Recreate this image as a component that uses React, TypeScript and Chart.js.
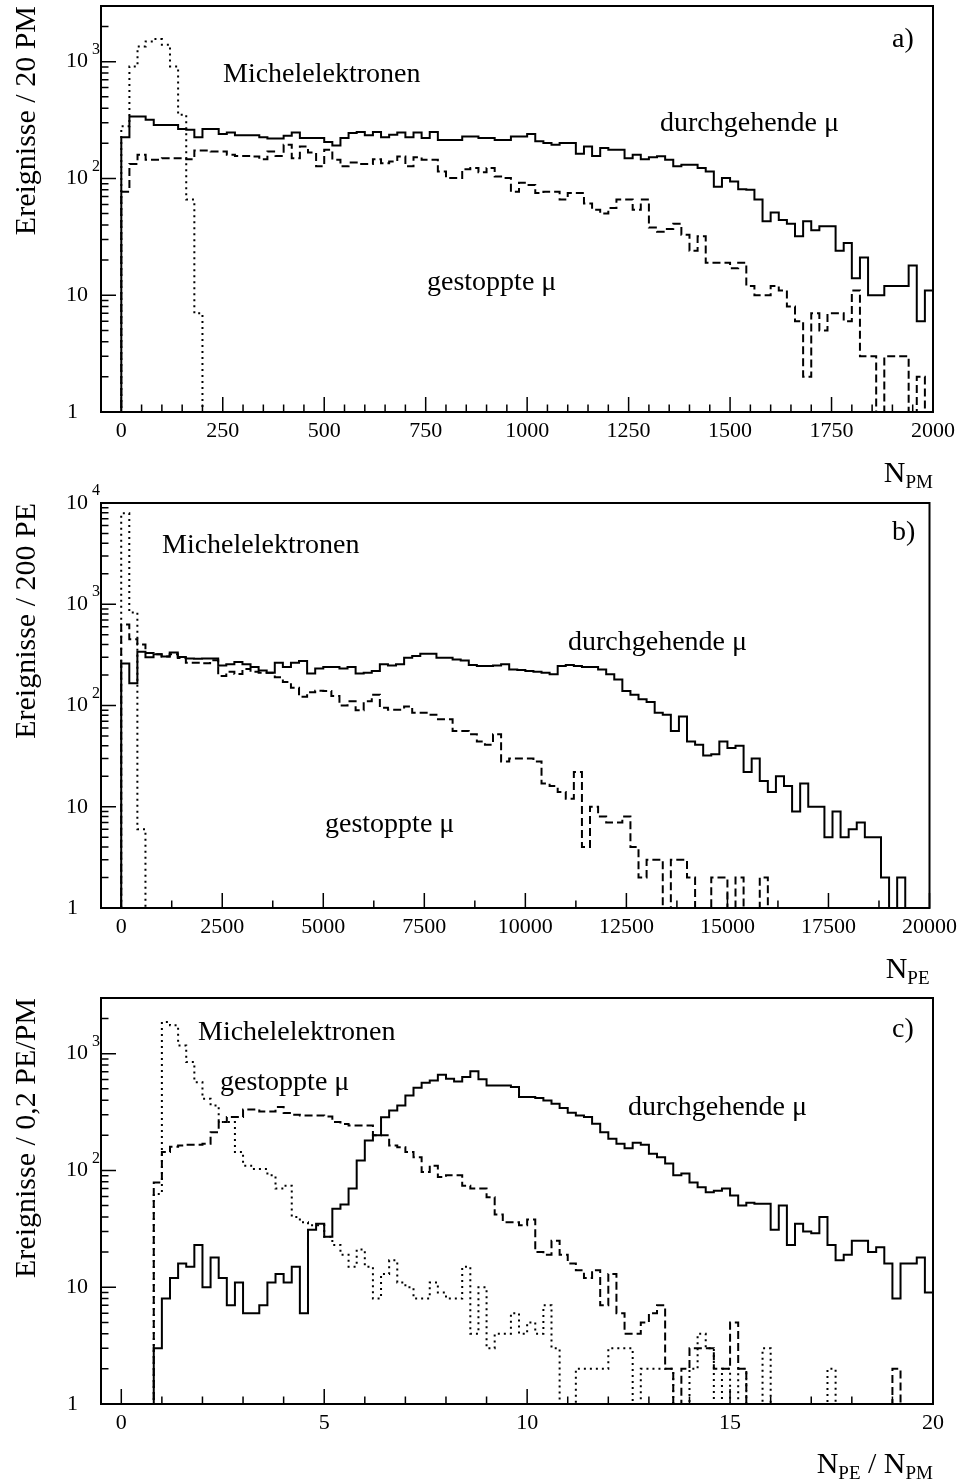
import React, { useEffect, useRef } from "react";
import { Chart, registerables } from "chart.js";

Chart.register(...registerables);

// ---- a) number of hit photomultipliers, 20 PM per bin ----
const pmBinWidth = 20;
const pmTickLabels = [0, 250, 500, 750, 1000, 1250, 1500, 1750, 2000];
const pmThrough = [
  225, 340, 340, 318, 287, 287, 287, 265, 262, 225,
  265, 265, 240, 248, 235, 235, 235, 225, 220, 220,
  232, 248, 222, 222, 222, 205, 192, 222, 245, 250,
  235, 250, 225, 237, 248, 225, 248, 222, 250, 214,
  214, 214, 229, 229, 222, 222, 214, 214, 229, 229,
  240, 208, 201, 194, 201, 201, 163, 188, 156, 182,
  176, 176, 149, 160, 146, 152, 155, 145, 127, 131,
  131, 123, 115, 85, 101, 94, 81, 80, 66, 43,
  51, 44, 41, 32, 43, 36, 39, 39, 24, 28,
  14, 21, 10, 10, 12, 12, 12, 18, 6, 11,
];
const pmStopped = [
  77, 133, 160, 145, 145, 149, 149, 149, 146, 174,
  174, 170, 170, 160, 156, 156, 154, 146, 170, 156,
  194, 149, 188, 167, 127, 176, 145, 127, 137, 133,
  133, 146, 135, 140, 154, 127, 152, 145, 145, 115,
  101, 101, 120, 123, 113, 123, 104, 101, 77, 92,
  88, 75, 77, 77, 66, 75, 75, 61, 54, 50,
  56, 66, 66, 54, 66, 38, 35, 37, 41, 33,
  24, 32, 19, 19, 19, 17, 19, 12, 10, 10,
  12, 11, 8, 6, 2, 7, 5, 7, 7, 6,
  11, 3, 3, 0, 3, 3, 3, 0, 2, 1,
];
const pmMichel = [280, 912, 1353, 1493, 1563, 1400, 912, 351, 66, 7];

// ---- b) number of photoelectrons, 200 PE per bin ----
const peBinWidth = 200;
const peTickLabels = [0, 2500, 5000, 7500, 10000, 12500, 15000, 17500, 20000];
const peThrough = [
  260, 166, 340, 300, 320, 305, 333, 301, 292, 290,
  292, 292, 249, 255, 269, 255, 240, 222, 211, 264,
  240, 264, 275, 207, 232, 240, 240, 232, 240, 207,
  211, 219, 255, 249, 255, 296, 308, 325, 325, 296,
  296, 285, 279, 251, 245, 245, 249, 255, 227, 224,
  219, 215, 211, 203, 245, 251, 245, 240, 240, 227,
  203, 181, 139, 128, 115, 108, 85, 81, 56, 78,
  44, 41, 32, 33, 44, 38, 40, 22, 30, 18,
  14, 20, 16, 9, 17, 10, 10, 5, 9, 5,
  6, 7, 5, 5, 2, 0, 2,
];
const peStopped = [
  630, 450, 400, 330, 320, 305, 320, 295, 265, 265,
  262, 280, 196, 215, 205, 230, 215, 211, 211, 190,
  171, 150, 122, 135, 140, 139, 124, 100, 110, 90,
  110, 128, 95, 91, 91, 98, 85, 85, 81, 73,
  73, 56, 56, 52, 44, 41, 52, 28, 30, 30,
  30, 28, 17, 16, 14, 12, 22, 4, 10, 8,
  7, 7, 8, 4, 2, 3, 3, 0, 3, 3,
  2, 1, 1, 2, 2, 1, 2, 1, 1, 2,
  1,
];
const peMichel = [7900, 830, 6];

// ---- c) photoelectrons per photomultiplier, 0.2 PE/PM per bin ----
const ratioBinWidth = 0.2;
const ratioTickLabels = [0, 5, 10, 15, 20];
const ratioThrough = [
  0, 0, 0, 0, 3, 8, 12, 16, 15, 23,
  10, 18, 12, 7, 11, 6, 6, 7, 11, 13,
  11, 15, 6, 31, 35, 27, 47, 51, 70, 122,
  181, 200, 285, 327, 361, 439, 511, 564, 591, 661,
  611, 579, 631, 706, 603, 535, 535, 535, 518, 425,
  425, 417, 398, 373, 342, 312, 296, 287, 251, 213,
  187, 169, 155, 173, 166, 139, 130, 115, 91, 94,
  79, 72, 65, 67, 70, 61, 50, 53, 52, 52,
  31, 50, 23, 35, 30, 29, 40, 23, 17, 19,
  25, 25, 20, 22, 16, 8, 16, 16, 18, 9,
];
const ratioStopped = [
  0, 0, 0, 0, 79, 144, 160, 164, 166, 166,
  169, 213, 260, 287, 287, 333, 333, 320, 320, 349,
  310, 300, 296, 296, 296, 290, 260, 250, 243, 243,
  243, 200, 200, 164, 158, 144, 130, 97, 110, 88,
  91, 91, 74, 70, 70, 59, 42, 36, 36, 34,
  38, 20, 19, 25, 19, 16, 14, 12, 14, 7,
  13, 6, 4, 4, 5, 6, 7, 2, 1, 2,
  3, 3, 3, 2, 2, 5, 2, 0, 0, 0,
  0, 0, 0, 0, 0, 0, 0, 0, 0, 0,
  0, 0, 0, 0, 0, 2,
];
const ratioMichel = [
  0, 0, 0, 0, 63, 1868, 1750, 1178, 848, 571,
  411, 361, 260, 260, 144, 110, 103, 103, 91, 70,
  74, 40, 36, 34, 34, 27, 23, 19, 15, 21,
  15, 8, 13, 17, 11, 10, 8, 8, 11, 9,
  8, 8, 15, 4, 10, 3, 4, 4, 6, 4,
  5, 4, 7, 3, 1, 1, 2, 2, 2, 2,
  3, 3, 3, 1, 2, 2, 2, 2, 0, 0,
  2, 4, 3, 0, 2, 0, 2, 0, 0, 3,
  0, 0, 0, 0, 0, 0, 0, 2,
];

const SERIF = '"Liberation Serif", "Times New Roman", Times, serif';
const font = (px: number) => `${px}px ${SERIF}`;

// Empty bins sit below the log axis and get clipped at the frame.
const EMPTY = 0.05;

// Turn bin contents into an outline: horizontal top per bin, verticals at edges.
function outline(counts: number[], width: number) {
  const first = counts.findIndex((c) => c > 0);
  let last = counts.length - 1;
  while (last >= 0 && !(counts[last] > 0)) last--;
  if (first < 0) return [];
  const pts: { x: number; y: number }[] = [{ x: first * width, y: EMPTY }];
  for (let i = first; i <= last; i++) {
    const y = counts[i] > 0 ? counts[i] : EMPTY;
    pts.push({ x: i * width, y });
    pts.push({ x: (i + 1) * width, y });
  }
  pts.push({ x: (last + 1) * width, y: EMPTY });
  return pts;
}

type TextItem = { text: string; x: number; y: number };
type TitlePart = { text: string; sub?: boolean };

type PanelCfg = {
  top: number;
  height: number;
  areaTop: number;
  areaBottom: number;
  xMin: number;
  xMax: number;
  yMax: number;
  xLabels: number[];
  xMajor: number;
  xMinor: number;
  binWidth: number;
  through: number[];
  stopped: number[];
  michel: number[];
  yTitle: string;
  xTitle: TitlePart[];
  xTitleBaseline: number;
  letter: TextItem;
  notes: TextItem[];
};

const panels: PanelCfg[] = [
  {
    top: 0,
    height: 492,
    areaTop: 6,
    areaBottom: 412,
    xMin: -50,
    xMax: 2000,
    yMax: 3000,
    xLabels: pmTickLabels,
    xMajor: 250,
    xMinor: 50,
    binWidth: pmBinWidth,
    through: pmThrough,
    stopped: pmStopped,
    michel: pmMichel,
    yTitle: "Ereignisse / 20 PM",
    xTitle: [{ text: "N" }, { text: "PM", sub: true }],
    xTitleBaseline: 482,
    letter: { text: "a)", x: 892, y: 47 },
    notes: [
      { text: "Michelelektronen", x: 223, y: 82 },
      { text: "durchgehende μ", x: 660, y: 131 },
      { text: "gestoppte μ", x: 427, y: 290 },
    ],
  },
  {
    top: 480,
    height: 512,
    areaTop: 23,
    areaBottom: 428,
    xMin: -500,
    xMax: 20000,
    yMax: 10000,
    xLabels: peTickLabels,
    xMajor: 2500,
    xMinor: 1250,
    binWidth: peBinWidth,
    through: peThrough,
    stopped: peStopped,
    michel: peMichel,
    yTitle: "Ereignisse / 200 PE",
    xTitle: [{ text: "N" }, { text: "PE", sub: true }],
    xTitleBaseline: 498,
    letter: { text: "b)", x: 892, y: 60 },
    notes: [
      { text: "Michelelektronen", x: 162, y: 73 },
      { text: "durchgehende μ", x: 568, y: 170 },
      { text: "gestoppte μ", x: 325, y: 352 },
    ],
  },
  {
    top: 975,
    height: 506,
    areaTop: 23,
    areaBottom: 429,
    xMin: -0.5,
    xMax: 20,
    yMax: 3000,
    xLabels: ratioTickLabels,
    xMajor: 5,
    xMinor: 1,
    binWidth: ratioBinWidth,
    through: ratioThrough,
    stopped: ratioStopped,
    michel: ratioMichel,
    yTitle: "Ereignisse / 0,2 PE/PM",
    xTitle: [
      { text: "N" },
      { text: "PE", sub: true },
      { text: " / " },
      { text: "N" },
      { text: "PM", sub: true },
    ],
    xTitleBaseline: 498,
    letter: { text: "c)", x: 892, y: 62 },
    notes: [
      { text: "Michelelektronen", x: 198, y: 65 },
      { text: "gestoppte μ", x: 220, y: 115 },
      { text: "durchgehende μ", x: 628, y: 140 },
    ],
  },
];

// Frame, inward ticks, decade labels, titles and annotations.
const panelDecor = {
  id: "panelDecor",
  afterDraw(chart: any, _args: any, cfg: PanelCfg) {
    const { ctx, chartArea: a, scales } = chart;
    const xs = scales.x;
    const ys = scales.y;
    ctx.save();
    ctx.strokeStyle = "#000";
    ctx.fillStyle = "#000";

    ctx.lineWidth = 1.5;
    ctx.beginPath();
    const ratio = Math.round(cfg.xMajor / cfg.xMinor);
    const nMinor = Math.round(cfg.xMax / cfg.xMinor);
    for (let k = 0; k <= nMinor; k++) {
      const px = xs.getPixelForValue(k * cfg.xMinor);
      const len = k % ratio === 0 ? 15 : 7.5;
      ctx.moveTo(px, a.bottom);
      ctx.lineTo(px, a.bottom - len);
    }
    for (let d = 1; d <= cfg.yMax; d *= 10) {
      for (let m = 1; m <= 9; m++) {
        const v = d * m;
        if (v > cfg.yMax * 1.0001) break;
        const py = ys.getPixelForValue(v);
        const len = m === 1 ? 15 : 7.5;
        ctx.moveTo(a.left, py);
        ctx.lineTo(a.left + len, py);
      }
    }
    ctx.stroke();

    ctx.lineWidth = 2;
    ctx.strokeRect(a.left, a.top, a.right - a.left, a.bottom - a.top);

    // decade labels
    ctx.textBaseline = "middle";
    let e = 0;
    for (let d = 1; d <= cfg.yMax * 1.0001; d *= 10, e++) {
      const py = ys.getPixelForValue(d);
      ctx.font = font(22);
      ctx.textAlign = "right";
      if (e === 0) {
        ctx.fillText("1", 78, py);
      } else {
        ctx.fillText("10", 88, py);
        if (e > 1) {
          ctx.font = font(16);
          ctx.textAlign = "left";
          ctx.fillText(String(e), 92, py - 12);
        }
      }
    }

    // y title, ending at the top of the frame
    ctx.save();
    ctx.translate(35, a.top);
    ctx.rotate(-Math.PI / 2);
    ctx.font = font(30);
    ctx.textAlign = "right";
    ctx.textBaseline = "alphabetic";
    ctx.fillText(cfg.yTitle, 0, 0);
    ctx.restore();

    // x title with subscripts, ending at the right edge of the frame
    ctx.textBaseline = "alphabetic";
    ctx.textAlign = "left";
    const widths = cfg.xTitle.map((p) => {
      ctx.font = font(p.sub ? 19 : 30);
      return ctx.measureText(p.text).width;
    });
    let x = a.right - widths.reduce((s, w) => s + w, 0);
    cfg.xTitle.forEach((p, i) => {
      ctx.font = font(p.sub ? 19 : 30);
      ctx.fillText(p.text, x, cfg.xTitleBaseline + (p.sub ? 6 : 0));
      x += widths[i];
    });

    ctx.font = font(28);
    ctx.fillText(cfg.letter.text, cfg.letter.x, cfg.letter.y);
    cfg.notes.forEach((n) => ctx.fillText(n.text, n.x, n.y));
    ctx.restore();
  },
};

function Panel({ cfg }: { cfg: PanelCfg }) {
  const ref = useRef<HTMLCanvasElement | null>(null);
  useEffect(() => {
    if (!ref.current) return;
    const line = {
      borderColor: "#000",
      borderWidth: 2,
      pointRadius: 0,
      tension: 0,
      fill: false,
      borderCapStyle: "butt" as const,
      borderJoinStyle: "miter" as const,
    };
    const chart = new Chart(ref.current, {
      type: "line",
      data: {
        datasets: [
          { ...line, label: "durchgehende μ", data: outline(cfg.through, cfg.binWidth) },
          {
            ...line,
            label: "gestoppte μ",
            data: outline(cfg.stopped, cfg.binWidth),
            borderDash: [8, 4],
          },
          {
            ...line,
            label: "Michelelektronen",
            data: outline(cfg.michel, cfg.binWidth),
            borderDash: [2, 4],
          },
        ],
      },
      options: {
        animation: false,
        responsive: false,
        devicePixelRatio: 1,
        events: [],
        layout: { padding: { top: cfg.areaTop, left: 101, right: 30, bottom: 0 } },
        plugins: {
          legend: { display: false },
          tooltip: { enabled: false },
          panelDecor: cfg as any,
        } as any,
        scales: {
          x: {
            type: "linear",
            min: cfg.xMin,
            max: cfg.xMax,
            grid: { display: false, drawTicks: false },
            border: { display: false },
            afterBuildTicks: (s: any) => {
              s.ticks = cfg.xLabels.map((v) => ({ value: v }));
            },
            ticks: {
              autoSkip: false,
              maxRotation: 0,
              minRotation: 0,
              padding: 6,
              color: "#000",
              font: { family: SERIF, size: 22 },
              callback: (v: any) => String(v),
            },
            afterFit: (s: any) => {
              s.height = cfg.height - cfg.areaBottom;
            },
          },
          y: {
            type: "logarithmic",
            min: 1,
            max: cfg.yMax,
            display: false,
          },
        },
      },
      plugins: [panelDecor],
    });
    return () => chart.destroy();
  }, [cfg]);
  return (
    <canvas
      ref={ref}
      width={963}
      height={cfg.height}
      style={{ position: "absolute", left: 0, top: cfg.top, width: 963, height: cfg.height }}
    />
  );
}

export default function App() {
  return (
    <div
      style={{
        position: "absolute",
        left: 0,
        top: 0,
        width: 963,
        height: 1481,
        background: "#fff",
        overflow: "hidden",
      }}
    >
      {panels.map((p, i) => (
        <Panel key={i} cfg={p} />
      ))}
    </div>
  );
}
